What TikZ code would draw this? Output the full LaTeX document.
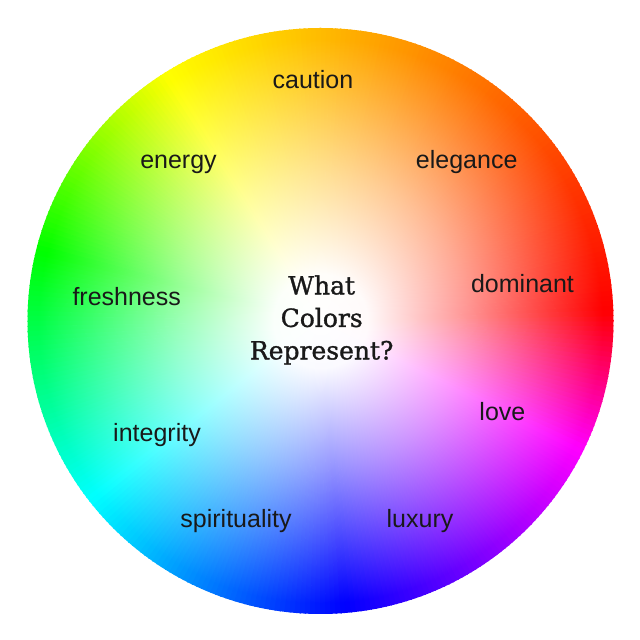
\documentclass[tikz,border=0pt]{standalone}
\usepackage{fontspec}
\setmainfont{Liberation Sans}
\newfontfamily\titlefont[FakeBold=1.2]{DejaVu Serif}
\usetikzlibrary{fadings}
\pgfdeclareradialshading{whiteshade}{\pgfpointorigin}{%
  color(0bp)=(white); color(4bp)=(white!98!black);
  color(12.5bp)=(white!58!black); color(20bp)=(white!20!black);
  color(24bp)=(black); color(50bp)=(black)}
\pgfdeclarefading{whitefade}{\pgfuseshading{whiteshade}}
\tikzset{
  lbl/.style={font=\fontsize{25}{30}\selectfont, text=black!90, anchor=base, inner sep=0pt},
  ttl/.style={font=\titlefont\fontsize{25}{32.5}\selectfont, text=black!90, align=center, inner sep=0pt},
  wedge/.style={fill=wc, draw=wc, line width=0.6pt, line join=round}
}
\begin{document}
\begin{tikzpicture}[x=1pt,y=1pt]
\useasboundingbox (0,0) rectangle (640,640);
\coordinate (c) at (320.5,319);
\begin{scope}
\clip (c) circle[radius=293];
\foreach \sa/\ea/\sh/\eh in {2/122/0/60,122/166/60/120,166/218/120/180,218/275/180/240,275/334/240/300,334/362/300/360}{
  \pgfmathtruncatemacro\nwed{\ea-\sa}
  \foreach \i in {1,...,\nwed}{
    \pgfmathsetmacro\tha{\sa+\i-1}
    \pgfmathsetmacro\hu{mod(\sh+(\eh-\sh)*(\i-0.5)/\nwed,360)}
    \convertcolorspec{Hsb}{\hu,1,1}{rgb}\wcspec
    \definecolor{wc}{rgb}{\wcspec}
    \path[wedge] (c) -- ++(\tha:300) arc[start angle=\tha, end angle=\tha+1.1, radius=300] -- cycle;
  }
}
\end{scope}
\fill[white, path fading=whitefade] (c) circle[radius=293];
\node[lbl] (caution) at (313,551) {caution};
\node[lbl] (energy) at (178.5,471) {energy};
\node[lbl] (elegance) at (466.7,471.5) {elegance};
\node[lbl] (freshness) at (126.7,334.7) {freshness};
\node[lbl] (dominant) at (522.5,347.7) {dominant};
\node[lbl] (love) at (502.4,219) {love};
\node[lbl] (integrity) at (157,198.3) {integrity};
\node[lbl] (spirituality) at (236,112.7) {spirituality};
\node[lbl] (luxury) at (420,112.7) {luxury};
\node[ttl] (title) at (321.7,320) {What\\Colors\\Represent?};
\end{tikzpicture}
\end{document}
